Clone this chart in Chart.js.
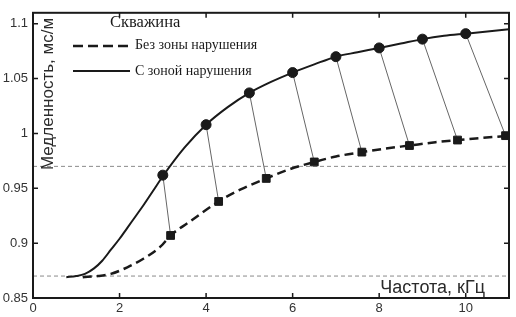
<!DOCTYPE html>
<html>
<head>
<meta charset="utf-8">
<script src="https://cdn.jsdelivr.net/npm/chart.js@4.4.0/dist/chart.umd.min.js"></script>
<style>
  html, body { margin: 0; padding: 0; background: #fff; }
  #wrap { width: 516px; height: 317px; }
</style>
</head>
<body>
<div id="wrap"><canvas id="chart"></canvas></div>
<script>
// значения
const legendTitle = 'Скважина';
const seriesNames = ['Без зоны нарушения', 'С зоной нарушения'];
const xTitle = 'Частота, кГц';
const yTitle = 'Медленность, мс/м';

const xTicks = [0, 2, 4, 6, 8, 10];
const yTicks = [0.85, 0.9, 0.95, 1, 1.05, 1.1];

// кривая с зоной нарушения (сплошная)
const zoneX = [0.77, 1.0, 1.2, 1.41, 1.6, 1.8, 2.0, 2.18, 2.38, 2.56, 2.78, 3.0, 3.5, 4.0, 4.5, 5.0, 5.5, 6.0, 6.5, 7.0, 7.5, 8.0, 8.5, 9.0, 9.5, 10.0, 10.5, 11.0];
const zoneY = [0.869, 0.870, 0.872, 0.877, 0.884, 0.894, 0.904, 0.914, 0.925, 0.935, 0.948, 0.961, 0.987, 1.008, 1.024, 1.037, 1.047, 1.0555, 1.063, 1.070, 1.074, 1.078, 1.082, 1.086, 1.089, 1.091, 1.093, 1.095];

// кривая без зоны нарушения (пунктир)
const noZoneX = [1.15, 1.5, 1.8, 2.18, 2.56, 2.95, 3.18, 3.6, 4.29, 4.8, 5.39, 5.9, 6.5, 7.0, 7.6, 8.1, 8.7, 9.3, 9.81, 10.4, 11.0];
const noZoneY = [0.869, 0.870, 0.872, 0.878, 0.886, 0.897, 0.907, 0.919, 0.938, 0.949, 0.959, 0.967, 0.974, 0.979, 0.983, 0.986, 0.989, 0.992, 0.994, 0.996, 0.998];

// маркеры
const circleX = [3, 4, 5, 6, 7, 8, 9, 10];
const circleY = [0.962, 1.008, 1.037, 1.0555, 1.070, 1.078, 1.086, 1.091];
const squareX = [3.18, 4.29, 5.39, 6.5, 7.6, 8.7, 9.81, 10.92];
const squareY = [0.907, 0.938, 0.959, 0.974, 0.983, 0.989, 0.994, 0.998];

// горизонтальные пунктирные уровни
const refLevels = [0.87, 0.97];
const xMin = 0, xMax = 11, yMin = 0.85, yMax = 1.11;

const zip = (xs, ys) => xs.map((x, i) => ({ x: x, y: ys[i] }));

const datasets = [
  { data: zip(circleX, circleY), showLine: false, pointStyle: 'circle', pointRadius: 5, backgroundColor: '#1a1a1a', borderColor: '#1a1a1a', order: 0 },
  { data: zip(squareX, squareY), showLine: false, pointStyle: 'rect', pointRadius: 5.5, backgroundColor: '#1a1a1a', borderColor: '#1a1a1a', order: 0 },
  { data: zip(zoneX, zoneY), showLine: true, pointRadius: 0, borderColor: '#1a1a1a', borderWidth: 2, cubicInterpolationMode: 'monotone', order: 1 },
  { data: zip(noZoneX, noZoneY), showLine: true, pointRadius: 0, borderColor: '#1a1a1a', borderWidth: 2.5, borderDash: [9, 5], cubicInterpolationMode: 'monotone', order: 1 }
];

circleX.forEach((x, i) => {
  datasets.push({ data: [{ x: x, y: circleY[i] }, { x: squareX[i], y: squareY[i] }], showLine: true, pointRadius: 0, borderColor: '#666', borderWidth: 1, order: 2 });
});

refLevels.forEach(v => {
  datasets.push({ data: [{ x: xMin, y: v }, { x: xMax, y: v }], showLine: true, pointRadius: 0, borderColor: '#8a8a8a', borderWidth: 1, borderDash: [4, 3], order: 3 });
});

const decor = {
  id: 'decor',
  afterDatasetsDraw(chart) {
    const { ctx, chartArea: a, scales } = chart;
    const x = scales.x, y = scales.y;
    ctx.save();

    // рамка и внутренние засечки
    ctx.strokeStyle = '#1a1a1a';
    ctx.lineWidth = 2;
    ctx.strokeRect(a.left, a.top, a.right - a.left, a.bottom - a.top);
    ctx.lineWidth = 1.5;
    ctx.beginPath();
    xTicks.forEach(v => {
      const px = x.getPixelForValue(v);
      ctx.moveTo(px, a.bottom); ctx.lineTo(px, a.bottom - 5);
      ctx.moveTo(px, a.top); ctx.lineTo(px, a.top + 5);
    });
    yTicks.forEach(v => {
      const py = y.getPixelForValue(v);
      ctx.moveTo(a.left, py); ctx.lineTo(a.left + 5, py);
      ctx.moveTo(a.right, py); ctx.lineTo(a.right - 5, py);
    });
    ctx.stroke();

    // подписи осей внутри поля
    ctx.fillStyle = '#2a2a2a';
    ctx.font = '18px "Liberation Sans", Arial, sans-serif';
    ctx.textAlign = 'right';
    ctx.textBaseline = 'alphabetic';
    ctx.fillText(xTitle, a.right - 24, a.bottom - 5);

    ctx.save();
    ctx.font = '17px "Liberation Sans", Arial, sans-serif';
    ctx.translate(a.left + 15, 94);
    ctx.rotate(-Math.PI / 2);
    ctx.textAlign = 'center';
    ctx.textBaseline = 'middle';
    ctx.fillText(yTitle, 0, 0);
    ctx.restore();

    // легенда
    ctx.fillStyle = '#1a1a1a';
    ctx.textAlign = 'left';
    ctx.textBaseline = 'middle';
    ctx.font = '16.5px "Liberation Serif", "Times New Roman", serif';
    ctx.fillText(legendTitle, 110, 23);
    ctx.font = '14px "Liberation Serif", "Times New Roman", serif';
    ctx.fillText(seriesNames[0], 135, 45);
    ctx.fillText(seriesNames[1], 135, 71);
    ctx.lineWidth = 2.5;
    ctx.setLineDash([10, 5]);
    ctx.beginPath(); ctx.moveTo(73, 46); ctx.lineTo(130, 46); ctx.stroke();
    ctx.setLineDash([]);
    ctx.lineWidth = 2;
    ctx.beginPath(); ctx.moveTo(73, 71); ctx.lineTo(130, 71); ctx.stroke();

    ctx.restore();
  }
};

new Chart(document.getElementById('chart'), {
  type: 'scatter',
  data: { datasets: datasets },
  options: {
    responsive: true,
    maintainAspectRatio: false,
    animation: false,
    layout: { padding: { top: 5, right: 7, left: 0, bottom: 0 } },
    plugins: { legend: { display: false }, tooltip: { enabled: false } },
    scales: {
      x: {
        type: 'linear', min: xMin, max: xMax,
        grid: { display: false, drawTicks: false },
        border: { display: false },
        afterBuildTicks: s => { s.ticks = xTicks.map(v => ({ value: v })); },
        afterFit: s => { s.height = 19; },
        ticks: { padding: 3, color: '#333', font: { family: '"Liberation Sans", Arial, sans-serif', size: 13 }, maxRotation: 0, callback: v => String(v) }
      },
      y: {
        type: 'linear', min: yMin, max: yMax,
        grid: { display: false, drawTicks: false },
        border: { display: false },
        afterBuildTicks: s => { s.ticks = yTicks.map(v => ({ value: v })); },
        afterFit: s => { s.width = 33; },
        ticks: { padding: 5, color: '#333', font: { family: '"Liberation Sans", Arial, sans-serif', size: 13 }, callback: v => String(v) }
      }
    }
  },
  plugins: [decor]
});
</script>
</body>
</html>
